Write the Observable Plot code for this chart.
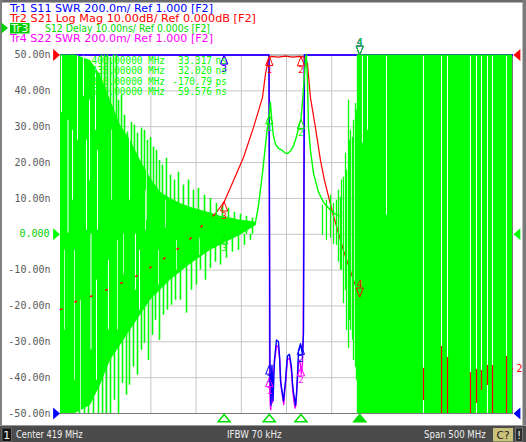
<!DOCTYPE html>
<html><head><meta charset="utf-8">
<script src="https://cdn.jsdelivr.net/npm/d3@7"></script>
<script src="https://cdn.jsdelivr.net/npm/@observablehq/plot@0.6"></script>
<style>body{margin:0;background:#fff;} svg{display:block}</style>
</head><body><div id="chart"></div>
<script>
// ================= DATA =================
const startMHz = 169, stopMHz = 669;           // Center 419 MHz, Span 500 MHz
const gridFreqs = [219, 269, 319, 369, 419, 469, 519, 569, 619];
const gridVals = [40, 30, 20, 10, 0, -10, -20, -30, -40];
const yTicks = [50, 40, 30, 20, 10, 0, -10, -20, -30, -40, -50];

const markerIds = ["1", "2", "3", "4"];
const markerFreqs = [400, 435, 350, 500];      // MHz
const delayMk = [33.317, 32.020, -0.17079, 59.576]; // ns (Tr3 S12 Delay)
const s21Mk = [-0.4, -0.5, -41, -67.5];        // dB
const s11Mk = [1.27, 1.38, 4.0, 4.0];          // SWR
const s22Mk = [1.20, 1.26, 4.0, 4.0];          // SWR

// Tr2 S21 Log Mag (dB)
const s21F  = [169, 175.6, 187.8, 202, 220, 239.8, 252, 263, 276.3, 296.2, 310, 325, 340.5, 350, 360.4, 371.4, 382.5, 392.4, 395.8, 399.1, 402, 410, 418, 426, 433, 437.8, 442.2, 445.5, 451, 456.6, 461, 470, 482, 492, 500, 520, 560, 620, 669];
const s21dB = [-71, -70.4, -68.5, -67.4, -65.5, -63.2, -61.8, -60.1, -58.1, -54.5, -52, -47.8, -44.2, -41, -35, -28.6, -20.2, -11.9, -5.2, -1.0, -0.4, -0.6, -0.3, -0.6, -0.4, -0.5, -2.4, -11.9, -20.2, -29.4, -35, -44, -54.5, -62, -67.5, -80, -88, -92, -87.5];

// Tr1 S11 SWR
const s11F   = [169, 398.8, 399.6, 400.7, 401.8, 402.9, 404.1, 405.7, 407.9, 410.1, 411.3, 412.4, 414.6, 415.7, 416.8, 417.9, 419.0, 420.1, 422.3, 424.5, 425.6, 426.7, 428.9, 430.1, 431.2, 432.3, 434.5, 436.7, 437.8, 438.9, 439.6, 669];
const s11Swr = [20, 20, 5, 1.28, 1.045, 1.27, 1.07, 1.30, 1.41, 1.40, 1.32, 1.18, 1.11, 1.07, 1.13, 1.18, 1.26, 1.32, 1.33, 1.26, 1.17, 1.12, 1.045, 1.11, 1.22, 1.35, 1.39, 1.33, 1.45, 5, 20, 20];

// Tr4 S22 SWR
const s22F   = [169, 398.9, 399.8, 400.3, 401.0, 401.6, 402.4, 403.3, 404.5, 406, 408, 410, 411.5, 413, 415, 416, 417, 418.5, 420, 422.5, 424.8, 426, 427.5, 428.5, 429.5, 431, 432.5, 434.2, 435.5, 436.5, 437.5, 438.6, 439.4, 669];
const s22Swr = [20, 20, 4, 1.22, 1.05, 1.02, 1.18, 1.06, 1.22, 1.30, 1.38, 1.37, 1.30, 1.15, 1.08, 1.05, 1.12, 1.20, 1.30, 1.31, 1.22, 1.12, 1.06, 1.03, 1.05, 1.18, 1.30, 1.28, 1.22, 1.27, 1.40, 4, 20, 20];

// Tr3 S12 Delay (ns): passband trace
const delayF  = [379.2, 384.7, 388, 392.4, 395.8, 398, 400, 401.2, 402.5, 404.5, 407, 410, 414.6, 418, 420, 423.4, 426.7, 430, 433.4, 435, 436.7, 438.5, 440, 441, 442.2, 443.3, 445.5, 448.9, 454.4, 460, 467.7, 473, 478];
const delayNs = [2.0, 3.3, 8, 17.0, 25, 30, 33.3, 36.8, 32.5, 27.5, 25, 24, 23.3, 22.6, 22.5, 23.2, 24.6, 27.2, 30.8, 32.02, 37, 43, 49, 55, 43, 30, 23.4, 17, 11.7, 8.9, 6.7, 5.6, 5];

// Delay noise, lower stopband: dense envelope
const coreF  = [169, 185.6, 202.2, 213.2, 224.3, 235.4, 246.4, 257.5, 268.6, 279.6, 290.7, 301.7, 312.8, 323.9, 335, 346, 357, 368.1, 379, 385.8];
const coreHi = [50, 50, 48.5, 44.4, 37.4, 30.4, 26.2, 20.6, 15.6, 11.7, 10, 8.6, 7.5, 6.7, 5.9, 5, 4.5, 3.9, 3.6, 3.3];
const coreLo = [-50, -50, -47.8, -42.1, -35.2, -31, -26.8, -22.6, -18.4, -15.6, -12.8, -10.6, -8.4, -6.4, -4.5, -3.1, -1.7, -0.3, 1.4, 2.5];
// upward spikes
const upF  = [214.3, 217.7, 221, 224.3, 227.6, 230.9, 233.2, 236.5, 239.8, 243.1, 247.5, 250.8, 254.2, 258.6, 261.9, 265.2, 268.6, 271.9, 275.2, 278.5, 281.8, 286.2, 290.7, 295.1, 299.5, 305, 310.6, 316.1, 321.6, 328.3, 334.9, 341.5, 348.2, 354.8, 361.4, 368.1, 374.7, 381.4];
const upNs = [50, 50, 50, 49.4, 50, 50, 37.4, 38.8, 33.2, 28.5, 31.2, 30.4, 28.2, 29.6, 29, 26.2, 27, 24.3, 23.4, 20.6, 19.3, 21.2, 16.5, 15.1, 17.3, 13.7, 15.1, 12.3, 12.8, 10.9, 10, 8.6, 8, 7.3, 6.1, 5.6, 5, 4.5];
// downward spikes
const dnF  = [171.2, 174.5, 179, 183.4, 190, 195.5, 200, 205.5, 211, 215.5, 219.9, 224.3, 228.7, 233.2, 237.6, 242, 245.3, 249.7, 254.2, 258.6, 261.9, 266.3, 270.8, 274.1, 278.5, 282.9, 287.3, 291.8, 296.2, 301.7, 308.4, 313.9, 319.4, 323.8, 329.4, 334.9, 340.4, 346, 352.6, 359.2, 365.9, 372.5, 379.2];
const dnNs = [-50, -50, -50, -50, -50, -50, -50, -50, -50, -50, -50, -50, -46.3, -50, -41.6, -44.9, -42.1, -37.1, -39.3, -32.4, -30.4, -35.2, -28.2, -24, -29.6, -22.6, -21.2, -19.8, -18.4, -18.4, -22, -15.6, -14.2, -10, -12.8, -9.5, -7.8, -8.6, -6.7, -5, -4.5, -3.1, -1.7];
// gaps in the lower stopband noise
const lgapF  = [170.1, 177.3, 182.3, 187.8, 194.4, 201.1, 202.7, 207.7, 217.7, 225.5, 228.7, 238.7, 243.1, 251.9, 263, 208.8, 191.1, 222,
                209.9, 232, 245.3, 256.4, 264.1, 277.4, 285.1, 297.3, 310.6, 322.7, 197.8, 184.5, 173.4];
const lgapHi = [49.7, 31.8, 29, 49.7, 49.7, 37.4, 0, 48, 40, 29, 49.7, 0, 23.4, 0, 12.3, -12.8, -18.4, -7.3,
                23.4, -1.7, 31.8, -4.5, 17.9, -4.5, 9.5, -1.7, 5.3, -1.1, 26.2, -4.5, -4.5];
const lgapLo = [34, 0.3, 9.5, 26.2, 38.5, 15, -32.3, 29, 23.4, 9.5, 37.4, -11.4, 5.3, -15.6, 1.1, -40.7, -50, -26.8,
                1.1, -26.8, 9.5, -21.2, 3.9, -14.2, 1.7, -10, 0.6, -5.9, 1.1, -40.7, -26.8];

// Delay noise, upper transition (columns)
const colF  = [458.8, 463.2, 467.7, 471, 474.3, 476.5, 478.7, 479.8, 482, 484.3, 485.4, 487.6, 488.7, 489.8, 492, 493.1, 495.3, 496.4, 497.5];
const colHi = [8.1, 9.5, 10.9, 8.6, 9.5, 12.3, 10.3, 15.1, 15.9, 22.6, 17.9, 37.4, 26.2, 29, 27, 31.8, 36.5, 34.6, 50];
const colLo = [-0.3, -1.7, -1.1, -2.8, -3.1, -7.8, -10, -10, -19.3, -15.6, -26.8, -31.8, -24, -26.8, -29.6, -35.2, -37.1, -40.7, -50];
// saturated upper stopband
const solidFrom = 497.8;
const rgapF  = [503, 508.6, 529.6, 570.5, 590.5, 597.1, 622.5, 629.2, 634.7, 641.3, 646.9, 662.4];
const rgapLo = [25.4, 29, 5.3, -50, -50, -50, -50, -50, -43.5, -50, -50, -50];
// S21 noise seen through the gaps (dB)
const redGapF  = [570.5, 590.5, 597.1, 622.5, 629.2, 634.7, 641.3, 646.9, 662.4];
const redGapHi = [-87.4, -81.3, -84.4, -88.6, -87.7, -88, -86.6, -86.6, -84.1];
const redGapLo = [-96.4, -100, -100, -100, -97.2, -93.6, -92.2, -100, -100];

// ================= HELPERS =================
const BLUE = "#0000ff", RED = "#ff0000", GREEN = "#00ff00", MAG = "#ff00ff";
const clampY = v => Math.max(-50, Math.min(50, v));
const swrToY = s => clampY(-50 + (s - 1) * 50);   // 200m/div, ref 1.000 at bottom
const dbToY = d => clampY(50 + d);                // 10 dB/div, ref 0 dB at top
const nsToY = n => clampY(n);                     // 10 ns/div, ref 0 at center

const rows = (F, V, fn) => F.map((f, i) => ({f, y: fn(V[i])}));
const s21Rows = rows(s21F, s21dB, dbToY);
const s11Rows = rows(s11F, s11Swr, swrToY);
const s22Rows = rows(s22F, s22Swr, swrToY);
const delayRows = rows(delayF, delayNs, nsToY);
const coreRows = coreF.map((f, i) => ({f, hi: coreHi[i], lo: coreLo[i]}));
const upRows = upF.map((f, i) => ({f, lo: 0, hi: upNs[i]}));
const dnRows = dnF.map((f, i) => ({f, lo: dnNs[i], hi: 0}));
const lgapRows = lgapF.map((f, i) => ({f, hi: lgapHi[i], lo: lgapLo[i]}));
const colRows = colF.map((f, i) => ({f, hi: colHi[i], lo: colLo[i]}));
const rgapRows = rgapF.map((f, i) => ({f, hi: 49.6, lo: rgapLo[i]}));
const redGapRows = redGapF.map((f, i) => ({f, hi: dbToY(redGapHi[i]), lo: dbToY(redGapLo[i])}));

const traceMk = [
  {c: MAG, vals: s22Mk, fn: swrToY},
  {c: BLUE, vals: s11Mk, fn: swrToY},
  {c: RED, vals: s21Mk, fn: dbToY},
  {c: "#00ee00", vals: delayMk, fn: nsToY}
];
const mk = [];
traceMk.forEach(t => markerFreqs.forEach((f, i) => mk.push({f, y: t.fn(t.vals[i]), id: markerIds[i], c: t.c, active: i === 3})));
const mkUp = mk.filter(d => !d.active), mkDown = mk.filter(d => d.active);

function sym(pts) {
  return {draw(ctx, size) {
    const r = Math.sqrt(size / Math.PI);
    ctx.moveTo(pts[0][0] * r, pts[0][1] * r);
    for (let k = 1; k < pts.length; k++) ctx.lineTo(pts[k][0] * r, pts[k][1] * r);
    ctx.closePath();
  }};
}
const symUp = sym([[0, 0], [0.8, 2], [-0.8, 2]]);
const symDown = sym([[0, 0], [0.8, -2], [-0.8, -2]]);
const symRight = sym([[0, 0], [-1.15, -1], [-1.15, 1]]);
const symLeft = sym([[0, 0], [1.15, -1], [1.15, 1]]);
const symStim = sym([[0, 0], [1, 1.2], [-1, 1.2]]);

const refLeft = [{y: -50, c: BLUE}, {y: 0, c: GREEN}, {y: 50, c: RED}];
const refRight = [{y: -50, c: BLUE}, {y: 0, c: GREEN}, {y: 50, c: RED}];
const mono = "DejaVu Sans Mono";

const plot = Plot.plot({
  width: 526, height: 442,
  marginLeft: 60, marginRight: 14, marginTop: 54.5, marginBottom: 29,
  x: {domain: [startMHz, stopMHz], axis: null},
  y: {domain: [-50, 50], axis: null},
  color: {type: "identity"},
  style: {background: "white", fontFamily: mono},
  marks: [
    Plot.gridX(gridFreqs, {stroke: "#c6c6c6", strokeOpacity: 1}),
    Plot.gridY(gridVals, {stroke: "#c6c6c6", strokeOpacity: 1}),
    Plot.frame({stroke: "#7a7a7a"}),
    Plot.line(s22Rows, {x: "f", y: "y", stroke: MAG, strokeWidth: 1.4}),
    Plot.line(s11Rows, {x: "f", y: "y", stroke: BLUE, strokeWidth: 1.4}),
    Plot.line(s21Rows, {x: "f", y: "y", stroke: RED, strokeWidth: 1.2}),
    Plot.areaY(coreRows, {x: "f", y1: "lo", y2: "hi", fill: GREEN}),
    Plot.ruleX(lgapRows, {x: "f", y1: "lo", y2: "hi", stroke: "white", strokeWidth: 1}),
    Plot.ruleX(upRows, {x: "f", y1: "lo", y2: "hi", stroke: GREEN, strokeWidth: 1.6}),
    Plot.ruleX(dnRows, {x: "f", y1: "lo", y2: "hi", stroke: GREEN, strokeWidth: 1.6}),
    Plot.ruleX(colRows, {x: "f", y1: "lo", y2: "hi", stroke: GREEN, strokeWidth: 1.3}),
    Plot.rect([{x1: solidFrom, x2: stopMHz, y1: -50, y2: 50}], {x1: "x1", x2: "x2", y1: "y1", y2: "y2", fill: GREEN}),
    Plot.line(delayRows, {x: "f", y: "y", stroke: GREEN, strokeWidth: 1.4}),
    Plot.ruleX(rgapRows, {x: "f", y1: "lo", y2: "hi", stroke: "white", strokeWidth: 1}),
    Plot.ruleX(redGapRows, {x: "f", y1: "lo", y2: "hi", stroke: RED, strokeWidth: 1.2}),
    Plot.line(s21Rows.filter(d => d.f <= 352), {x: "f", y: "y", stroke: RED, strokeWidth: 1.6, strokeDasharray: "1.5 15"}),
    // markers
    Plot.dot(mkUp, {x: "f", y: "y", symbol: symUp, r: 4.5, stroke: "c", fill: "none", strokeWidth: 1}),
    Plot.text(mkUp, {x: "f", y: "y", text: "id", dy: 13.5, fill: "c", fontFamily: mono, fontSize: 9.5}),
    Plot.dot(mkDown, {x: "f", y: "y", symbol: symDown, r: 4.5, stroke: "c", fill: "none", strokeWidth: 1}),
    Plot.text(mkDown, {x: "f", y: "y", text: "id", dy: -13.5, fill: "c", fontFamily: mono, fontSize: 9.5}),
    // stimulus markers under the grid
    Plot.dot(markerFreqs.map((f, i) => ({f, active: i === 3})), {x: "f", y: () => -50, symbol: symStim, r: 6, stroke: "#00e000", fill: d => d.active ? "#00e000" : "white", dy: 1}),
    // reference level arrows
    Plot.dot(refLeft, {x: () => startMHz, y: "y", symbol: symRight, r: 6, fill: "c", stroke: "none", dx: -0.5}),
    Plot.dot(refRight, {x: () => stopMHz, y: "y", symbol: symLeft, r: 6, fill: "c", stroke: "none", dx: 1}),
    // trace end label for Tr2
    Plot.text([s21Rows[s21Rows.length - 1]], {x: "f", y: "y", text: () => "2", dx: 7, fill: RED, fontFamily: mono, fontSize: 10}),
    // y tick labels
    Plot.text(yTicks.filter(t => t !== 0), {y: d => d, text: d => d.toFixed(2) + "n", frameAnchor: "left", textAnchor: "end", dx: -10, fill: "#5a5a5a", fontFamily: mono, fontSize: 10}),
    Plot.text([0], {y: d => d, text: () => "0.000", frameAnchor: "left", textAnchor: "end", dx: -11, fill: "#00d000", fontFamily: mono, fontSize: 10})
  ]
});
document.getElementById("chart").appendChild(plot);

// ================= OVERLAY TEXT (header, readout, status bar) =================
const svg = d3.select(plot);
const g = svg.append("g");
function txt(s, x, y, o = {}) {
  const t = g.append("text").attr("x", x).attr("y", y).text(s)
    .attr("font-family", o.font || "DejaVu Sans").attr("font-size", o.size || 11)
    .attr("fill", o.fill || "#000").attr("text-anchor", o.anchor || "start");
  if (o.len) t.attr("textLength", o.len).attr("lengthAdjust", "spacingAndGlyphs");
  return t;
}
// frame of the window
g.append("rect").attr("x", 0).attr("y", 0).attr("width", 526).attr("height", 2.5).attr("fill", "#6a6a6a");
g.append("rect").attr("x", 0).attr("y", 0).attr("width", 2).attr("height", 426).attr("fill", "#808080");
g.append("rect").attr("x", 522.5).attr("y", 0).attr("width", 3.5).attr("height", 426).attr("fill", "#7a7a7a");

// trace headers
txt("Tr1 S11 SWR 200.0m/ Ref 1.000 [F2]", 10, 12, {fill: "#0000ff", len: 203});
txt("Tr2 S21 Log Mag 10.00dB/ Ref 0.000dB [F2]", 10, 22, {fill: "#ff0000", len: 246});
g.append("path").attr("d", "M1.5,22.5 L8,28 L1.5,33.5 Z").attr("fill", "#00d000");
g.append("rect").attr("x", 10).attr("y", 23).attr("width", 19.5).attr("height", 10.5).attr("fill", "#00cc00");
txt("Tr3", 11, 32, {fill: "#eaffea", len: 17.5});
txt("S12 Delay 10.00ns/ Ref 0.000s [F2]", 45, 32, {fill: "#00d800", len: 165});
txt("Tr4 S22 SWR 200.0m/ Ref 1.000 [F2]", 10, 42, {fill: "#ff00ff", len: 203});

// marker readout of the active trace (Tr3)
const rowY = [63.5, 74, 84.5, 95];
const fmtVal = v => Math.abs(v) < 1 ? [(v * 1000).toFixed(2), "ps"] : [v.toFixed(3), "ns"];
markerFreqs.forEach((f, i) => {
  const y = rowY[i];
  const [val, unit] = fmtVal(delayMk[i]);
  const id = (i === 3 ? ">" : " ") + markerIds[i];
  txt(id, 63, y, {font: mono, size: 10, fill: GREEN, len: 11.3});
  const fs = f.toFixed(5);
  txt(fs, 142.5, y, {font: mono, size: 10, fill: GREEN, anchor: "end", len: fs.length * 5.67});
  txt("MHz", 148, y, {font: mono, size: 10, fill: GREEN, len: 17});
  txt(val, 212, y, {font: mono, size: 10, fill: GREEN, anchor: "end", len: val.length * 5.67});
  txt(unit, 215.5, y, {font: mono, size: 10, fill: GREEN, len: 11.3});
});

// status bar
g.append("rect").attr("x", 0).attr("y", 425.5).attr("width", 526).attr("height", 16.5).attr("fill", "#4b4b4b");
g.append("rect").attr("x", 0).attr("y", 425).attr("width", 526).attr("height", 1).attr("fill", "#9a9a9a");
g.append("rect").attr("x", 2).attr("y", 428).attr("width", 9.5).attr("height", 13.5).attr("fill", "#141414").attr("stroke", "#8a8a8a").attr("stroke-width", 0.6);
txt("1", 6.8, 438.5, {fill: "#f2f2f2", anchor: "middle", size: 11});
txt("Center 419 MHz", 16, 437.8, {fill: "#f0f0f0", len: 66.7});
txt("IFBW 70 kHz", 227, 437.8, {fill: "#f0f0f0", len: 54.5});
txt("Span 500 MHz", 424, 437.8, {fill: "#f0f0f0", len: 61.7});
g.append("rect").attr("x", 493).attr("y", 428).attr("width", 20).attr("height", 13.5).attr("fill", "#cbc37b");
txt("C?", 503, 438.5, {fill: "#1a1a1a", anchor: "middle", size: 10.5});
g.append("rect").attr("x", 515.5).attr("y", 428).attr("width", 7).attr("height", 13.5).attr("fill", "#2b2b2b").attr("stroke", "#9a9a9a").attr("stroke-width", 0.6);
txt("!", 519, 438.5, {fill: "#f2f2f2", anchor: "middle", size: 10.5});
</script>
</body></html>
